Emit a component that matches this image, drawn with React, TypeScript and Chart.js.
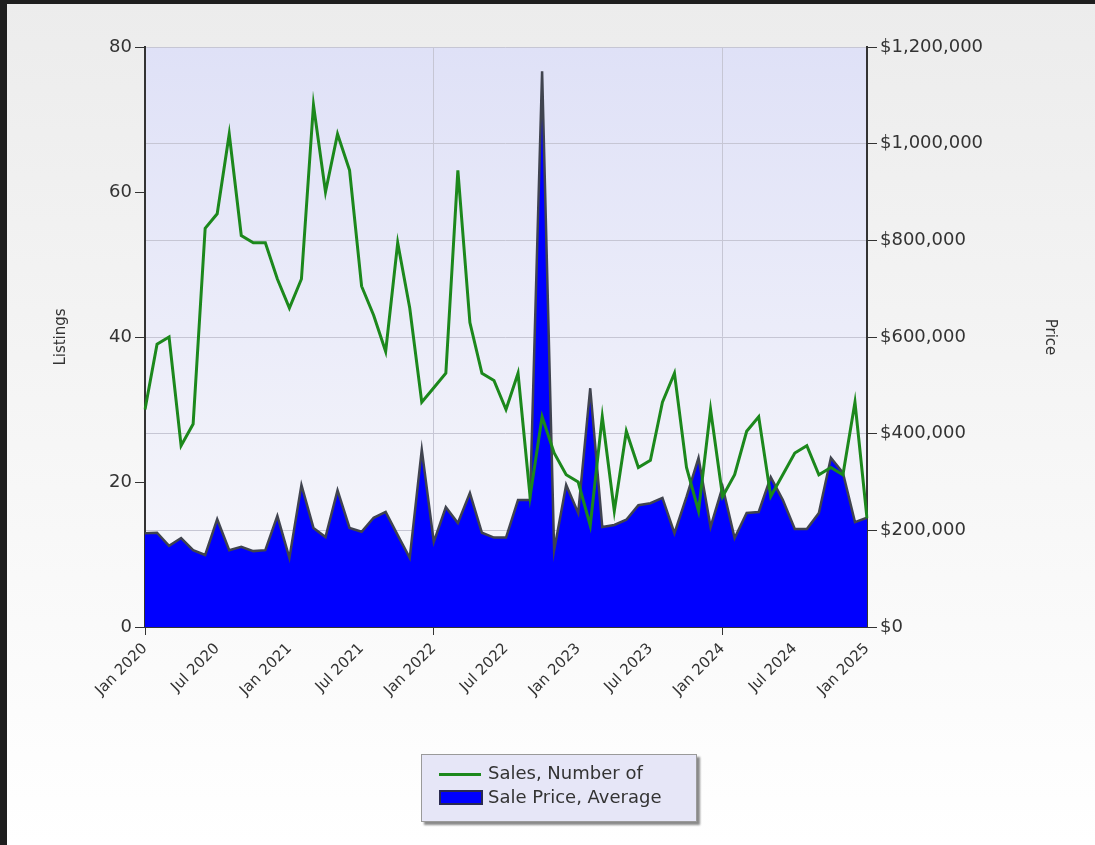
import React, { useEffect, useRef } from "react";
import { Chart, registerables } from "chart.js";

Chart.register(...registerables);

const monthNames = ["Jan", "Feb", "Mar", "Apr", "May", "Jun", "Jul", "Aug", "Sep", "Oct", "Nov", "Dec"];
const years = [2020, 2021, 2022, 2023, 2024, 2025];
const categories: string[] = [];
years.forEach((y) => monthNames.forEach((m) => { if (y < 2025 || m === "Jan") categories.push(m + " " + y); }));

const tickLabels = ["Jan 2020", "Jul 2020", "Jan 2021", "Jul 2021", "Jan 2022", "Jul 2022", "Jan 2023", "Jul 2023", "Jan 2024", "Jul 2024", "Jan 2025"];

// Sales, Number of (left axis, listings)
const sales = [
  30, 39, 40, 25, 28, 55, 57, 68, 54, 53, 53, 48,
  44, 48, 72, 60, 68, 63, 47, 43, 38, 53, 44, 31,
  33, 35, 63, 42, 35, 34, 30, 35, 18, 29, 24, 21,
  20, 14, 29, 16, 27, 22, 23, 31, 35, 22, 16, 30,
  18, 21, 27, 29, 18, 21, 24, 25, 21, 22, 21, 31,
  15,
];

// Sale Price, Average (right axis, dollars)
const prices = [
  194000, 195000, 168000, 184000, 159000, 149000, 223000, 159000, 166000, 157000, 159000, 230000,
  143000, 294000, 205000, 186000, 283000, 205000, 197000, 226000, 238000, 190000, 143000, 367000,
  176000, 248000, 215000, 277000, 195000, 185000, 185000, 263000, 263000, 1150000, 159000, 294000,
  236000, 494000, 207000, 211000, 222000, 252000, 256000, 267000, 194000, 269000, 350000, 207000,
  290000, 184000, 236000, 238000, 310000, 263000, 203000, 203000, 236000, 350000, 319000, 217000,
  226000,
];

const listingTicks = [0, 20, 40, 60, 80];
const priceTicks = [0, 200000, 400000, 600000, 800000, 1000000, 1200000];

const W = 1095;
const H = 845;
const FONT = "'DejaVu Sans', 'Liberation Sans', Arial, sans-serif";

const bgPlugin = {
  id: "bgPlugin",
  beforeDraw(chart: any) {
    const { ctx, width, height, chartArea: ca } = chart;
    ctx.save();
    let g = ctx.createLinearGradient(0, 0, 0, height);
    g.addColorStop(0, "#ececec");
    g.addColorStop(1, "#ffffff");
    ctx.fillStyle = g;
    ctx.fillRect(0, 0, width, height);
    ctx.fillStyle = "#1e1e1e";
    ctx.fillRect(0, 0, width, 4);
    ctx.fillRect(0, 0, 7, height);
    g = ctx.createLinearGradient(0, ca.top, 0, ca.bottom);
    g.addColorStop(0, "#dfe1f7");
    g.addColorStop(1, "#f8f8fb");
    ctx.fillStyle = g;
    ctx.fillRect(ca.left, ca.top, ca.right - ca.left, ca.bottom - ca.top);
    ctx.fillStyle = "#333";
    ctx.font = "15px " + FONT;
    ctx.textAlign = "center";
    ctx.textBaseline = "middle";
    ctx.save();
    ctx.translate(61, 337);
    ctx.rotate(-Math.PI / 2);
    ctx.fillText("Listings", 0, 0);
    ctx.restore();
    ctx.save();
    ctx.translate(1050, 337);
    ctx.rotate(Math.PI / 2);
    ctx.fillText("Price", 0, 0);
    ctx.restore();
    ctx.restore();
  },
};

export default function App() {
  const ref = useRef<HTMLCanvasElement | null>(null);

  useEffect(() => {
    const canvas = ref.current!;
    const chart = new Chart(canvas, {
      type: "line",
      data: {
        labels: categories,
        datasets: [
          {
            label: "Sales, Number of",
            data: sales,
            yAxisID: "y",
            borderColor: "#1c881c",
            borderWidth: 3,
            pointRadius: 0,
            fill: false,
            tension: 0,
          },
          {
            label: "Sale Price, Average",
            data: prices,
            yAxisID: "y1",
            borderColor: "#40444f",
            backgroundColor: "#0000ff",
            borderWidth: 2.5,
            pointRadius: 0,
            fill: "origin",
            tension: 0,
          },
        ],
      },
      options: {
        responsive: false,
        animation: false,
        devicePixelRatio: 1,
        layout: { padding: { top: 47, left: 0, right: 0, bottom: 0 } },
        plugins: { legend: { display: false }, tooltip: { enabled: false } },
        scales: {
          x: {
            type: "category",
            offset: false,
            grid: {
              color: (c: any) => (c.index % 24 === 0 ? "#c6c6d4" : "rgba(0,0,0,0)"),
              tickColor: (c: any) => (c.index % 24 === 0 ? "#333" : "rgba(0,0,0,0)"),
              tickLength: 8,
              lineWidth: 1,
            },
            border: { color: "#333", width: 2 },
            ticks: {
              autoSkip: false,
              maxRotation: 45,
              minRotation: 45,
              padding: 5,
              color: "#333",
              font: { family: FONT, size: 15 },
              callback: (v: any, i: number) => (i % 6 === 0 ? tickLabels[i / 6] : ""),
            },
            afterFit: (s: any) => { s.height = H - 627; },
          },
          y: {
            position: "left",
            min: 0,
            max: 80,
            afterBuildTicks: (s: any) => { s.ticks = listingTicks.map((v) => ({ value: v })); },
            grid: { drawOnChartArea: false, tickColor: "#333", tickLength: 10 },
            border: { color: "#333", width: 2 },
            ticks: { color: "#333", padding: 3, font: { family: FONT, size: 18 } },
            afterFit: (s: any) => { s.width = 145; },
          },
          y1: {
            position: "right",
            min: 0,
            max: 1200000,
            afterBuildTicks: (s: any) => { s.ticks = priceTicks.map((v) => ({ value: v })); },
            grid: { drawOnChartArea: true, color: "#c6c6d4", tickColor: "#333", tickLength: 10 },
            border: { color: "#333", width: 2 },
            ticks: {
              color: "#333",
              padding: 3,
              font: { family: FONT, size: 18 },
              callback: (v: any) => "$" + Number(v).toLocaleString("en-US"),
            },
            afterFit: (s: any) => { s.width = W - 867; },
          },
        },
      },
      plugins: [bgPlugin],
    } as any);
    return () => chart.destroy();
  }, []);

  return (
    <div style={{ position: "absolute", left: 0, top: 0, width: W, height: H, overflow: "hidden" }}>
      <canvas ref={ref} width={W} height={H} style={{ width: W, height: H, display: "block" }} />
      <div
        style={{
          position: "absolute",
          left: 421,
          top: 754,
          width: 276,
          height: 68,
          boxSizing: "border-box",
          background: "#e6e6f7",
          border: "1px solid #9a9a9a",
          boxShadow: "3px 3px 2px #8a8a8a",
          fontFamily: FONT,
          fontSize: 18,
          color: "#333",
        }}
      >
        <div style={{ position: "absolute", left: 17, top: 18, width: 42, height: 3, background: "#1c881c" }} />
        <div style={{ position: "absolute", left: 66, top: 8, whiteSpace: "nowrap", lineHeight: "20px" }}>Sales, Number of</div>
        <div
          style={{
            position: "absolute",
            left: 17,
            top: 35,
            width: 44,
            height: 15,
            boxSizing: "border-box",
            background: "#0000ff",
            border: "2px solid #2a2a50",
          }}
        />
        <div style={{ position: "absolute", left: 66, top: 32, whiteSpace: "nowrap", lineHeight: "20px" }}>Sale Price, Average</div>
      </div>
    </div>
  );
}
